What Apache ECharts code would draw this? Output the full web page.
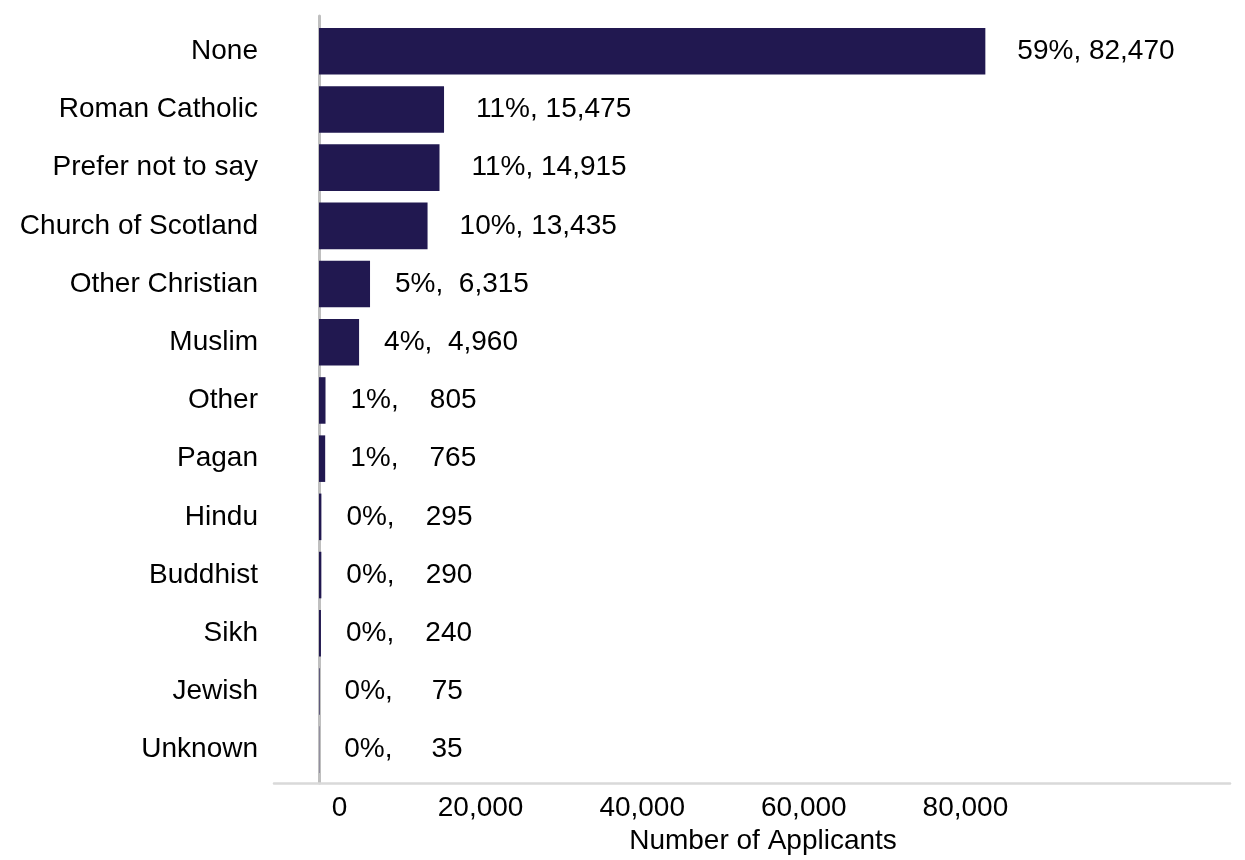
<!DOCTYPE html>
<html>
<head>
<meta charset="utf-8">
<title>Applicants by religion</title>
<script src="https://cdn.jsdelivr.net/npm/echarts@6/dist/echarts.min.js"></script>
<style>
  html, body { margin: 0; padding: 0; background: #ffffff; }
  #chart { width: 1245px; height: 860px; }
</style>
</head>
<body>
<div id="chart"></div>
<script>
// Religion categories, top to bottom
const categories = [
  'None', 'Roman Catholic', 'Prefer not to say', 'Church of Scotland',
  'Other Christian', 'Muslim', 'Other', 'Pagan', 'Hindu', 'Buddhist',
  'Sikh', 'Jewish', 'Unknown'
];
// Number of applicants in each category
const applicants = [82470, 15475, 14915, 13435, 6315, 4960, 805, 765, 295, 290, 240, 75, 35];
// Share of all applicants (%), as printed in the labels
const sharePct = [59, 11, 11, 10, 5, 4, 1, 1, 0, 0, 0, 0, 0];
// Values labelled on the horizontal axis
const tickValues = [0, 20000, 40000, 60000, 80000];

const FONT = '"Liberation Sans", Arial, Helvetica, sans-serif';
const BAR_COLOR = '#211850';

function withCommas(n) {
  return String(n).replace(/\B(?=(\d{3})+(?!\d))/g, ',');
}

// Shared value range so tick labels line up with the bars
const X_MIN = -5570;
const X_MAX = 112750;

const barData = applicants.map(function (v, i) {
  return {
    value: v,
    label: { distance: sharePct[i] >= 10 ? 32 : 25 }
  };
});

const chart = echarts.init(document.getElementById('chart'), null, { renderer: 'canvas' });

chart.setOption({
  animation: false,
  backgroundColor: '#ffffff',
  textStyle: { fontFamily: FONT },
  grid: [
    // bars and category labels
    { left: 274, top: 22.15, width: 956, height: 756.6, containLabel: false },
    // axis lines, tick labels and axis title
    { left: 274, top: 16, width: 956, height: 768.5, containLabel: false }
  ],
  xAxis: [
    {
      gridIndex: 0,
      type: 'value',
      min: X_MIN,
      max: X_MAX,
      show: false
    },
    {
      gridIndex: 1,
      type: 'value',
      min: X_MIN,
      max: X_MAX,
      position: 'bottom',
      axisLine: { show: true, onZero: false, lineStyle: { color: '#d9d9d9', width: 2.5 } },
      axisTick: { show: false },
      splitLine: { show: false },
      axisLabel: {
        customValues: tickValues,
        margin: 11,
        color: '#000000',
        fontFamily: FONT,
        fontSize: 28,
        formatter: function (v) {
          return v === 0 ? '{z|0}' : withCommas(v);
        },
        rich: {
          z: { padding: [0, 0, 0, 41], fontSize: 28, fontFamily: FONT, color: '#000000' }
        }
      },
      name: 'Number of Applicants',
      nameLocation: 'middle',
      nameGap: 41,
      nameTextStyle: {
        color: '#000000',
        fontFamily: FONT,
        fontSize: 28,
        padding: [0, 0, 0, 22]
      }
    }
  ],
  yAxis: [
    {
      gridIndex: 0,
      type: 'category',
      data: categories,
      inverse: true,
      position: 'left',
      axisLine: { show: false, onZero: false },
      axisTick: { show: false },
      splitLine: { show: false },
      axisLabel: {
        margin: 16,
        color: '#000000',
        fontFamily: FONT,
        fontSize: 28
      }
    },
    {
      gridIndex: 1,
      type: 'value',
      min: 0,
      max: 1,
      axisLine: { show: true, onZero: true, lineStyle: { color: '#bfbfbf', width: 3 } },
      axisTick: { show: false },
      axisLabel: { show: false },
      splitLine: { show: false }
    }
  ],
  series: [
    {
      type: 'bar',
      xAxisIndex: 0,
      yAxisIndex: 0,
      data: barData,
      barCategoryGap: '20%',
      itemStyle: { color: BAR_COLOR },
      label: {
        show: true,
        position: 'right',
        color: '#000000',
        fontFamily: FONT,
        fontSize: 28,
        formatter: function (p) {
          return sharePct[p.dataIndex] + '%,' + withCommas(p.value).padStart(7, ' ');
        }
      }
    }
  ]
});
</script>
</body>
</html>
